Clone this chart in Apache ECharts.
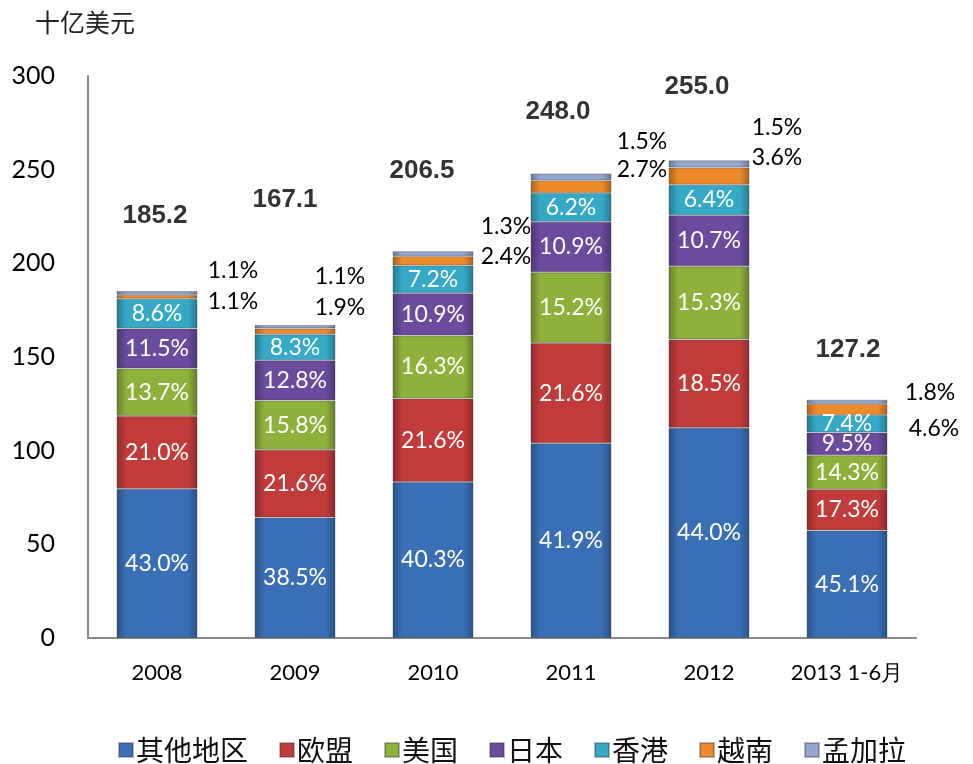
<!DOCTYPE html>
<html>
<head>
<meta charset="utf-8">
<script src="https://cdn.jsdelivr.net/npm/echarts@6/dist/echarts.min.js"></script>
<style>
  html, body { margin: 0; padding: 0; background: #fff; }
  #main { width: 973px; height: 764px; }
</style>
</head>
<body>
<div id="main"></div>
<script>
// 数据
const categories = ["2008", "2009", "2010", "2011", "2012", "2013 1-6月"];
const totals = [185.2, 167.1, 206.5, 248.0, 255.0, 127.2];
const seriesNames = ["其他地区", "欧盟", "美国", "日本", "香港", "越南", "孟加拉"];
const shareOther = [43.0, 38.5, 40.3, 41.9, 44.0, 45.1];
const shareEU = [21.0, 21.6, 21.6, 21.6, 18.5, 17.3];
const shareUS = [13.7, 15.8, 16.3, 15.2, 15.3, 14.3];
const shareJapan = [11.5, 12.8, 10.9, 10.9, 10.7, 9.5];
const shareHK = [8.6, 8.3, 7.2, 6.2, 6.4, 7.4];
const shareVietnam = [1.1, 1.9, 2.4, 2.7, 3.6, 4.6];
const shareBangla = [1.1, 1.1, 1.3, 1.5, 1.5, 1.8];

const shares = [shareOther, shareEU, shareUS, shareJapan, shareHK, shareVietnam, shareBangla];
const colors = ["#3a6fb6", "#c23b3b", "#8db13b", "#6b4b9d", "#36a9c6", "#ec8a2c", "#93a6d0"];

// 外侧小标签位置（相对于色块中心）
const vnOffsets = [[76, 5], [45, -24], [73, -4], [71, -17], [68, -18], [87, 19]];
const bdOffsets = [[76, -22], [45, -50], [73, -27], [71, -35], [68, -36], [83, -9]];
const totalOffsets = [[-2, -75], [-10, -125], [-11, -80], [-13, -62], [-12, -73], [1, -50]];

function shade(hex, f) {
  const n = parseInt(hex.slice(1), 16);
  const r = Math.round(((n >> 16) & 255) * f);
  const g = Math.round(((n >> 8) & 255) * f);
  const b = Math.round((n & 255) * f);
  return "rgb(" + Math.min(r, 255) + "," + Math.min(g, 255) + "," + Math.min(b, 255) + ")";
}

function barColor(hex) {
  return new echarts.graphic.LinearGradient(0, 0, 1, 0, [
    { offset: 0, color: shade(hex, 0.72) },
    { offset: 0.12, color: hex },
    { offset: 0.88, color: hex },
    { offset: 1, color: shade(hex, 0.72) },
  ]);
}

let myChart = echarts.init(document.querySelector("#main"));

const barSeries = seriesNames.map((name, si) => {
  const outside = si >= 5;
  const offs = si === 5 ? vnOffsets : bdOffsets;
  return {
    name: name,
    type: "bar",
    stack: "total",
    barWidth: 81,
    itemStyle: {
      color: barColor(colors[si]),
      borderColor: "rgba(60,60,60,0.35)",
      borderWidth: 1,
    },
    label: {
      show: true,
      position: "inside",
      color: outside ? "#000" : "#fff",
      fontFamily: "Lato",
      fontSize: 23,
      formatter: (p) => shares[si][p.dataIndex].toFixed(1) + "%",
    },
    data: totals.map((t, i) => {
      const item = { value: +(t * shares[si][i] / 100).toFixed(3) };
      if (outside) item.label = { offset: offs[i] };
      return item;
    }),
  };
});

let option = {
  animation: false,
  color: colors,
  title: {
    text: "十亿美元",
    left: 30,
    top: 5,
    textStyle: {
      fontFamily: "Noto Sans CJK SC",
      fontWeight: "normal",
      fontSize: 25,
      color: "#222",
    },
  },
  grid: {
    left: 88,
    right: 57,
    top: 76,
    bottom: 126,
    containLabel: false,
  },
  legend: {
    left: 113,
    top: 731,
    itemWidth: 14,
    itemHeight: 14,
    itemGap: 31,
    icon: "rect",
    textStyle: {
      fontFamily: "Noto Sans CJK SC",
      fontSize: 28,
      color: "#111",
      padding: [0, 0, 0, -2],
    },
    data: seriesNames,
  },
  xAxis: {
    type: "category",
    data: categories,
    axisLine: { lineStyle: { color: "#8a8a8a", width: 2 } },
    axisTick: { show: false },
    axisLabel: {
      interval: 0,
      color: "#000",
      fontFamily: "Lato",
      fontSize: 22,
      margin: 24,
    },
  },
  yAxis: {
    type: "value",
    min: 0,
    max: 300,
    interval: 50,
    axisLine: { show: true, lineStyle: { color: "#8a8a8a", width: 2 } },
    axisTick: { show: false },
    splitLine: { show: false },
    axisLabel: {
      color: "#000",
      fontFamily: "Lato",
      fontSize: 25,
      margin: 33,
    },
  },
  series: barSeries.concat([
    {
      name: "合计",
      type: "scatter",
      symbolSize: 0,
      silent: true,
      label: {
        show: true,
        position: "inside",
        color: "#000",
        fontFamily: "Liberation Sans",
        fontWeight: "bold",
        fontSize: 26,
        formatter: (p) => totals[p.dataIndex].toFixed(1),
      },
      data: totals.map((t, i) => ({
        value: [i, t],
        label: { offset: totalOffsets[i] },
      })),
    },
  ]),
};
myChart.setOption(option);
window.addEventListener("resize", () => {
  myChart.resize();
});
</script>
</body>
</html>
